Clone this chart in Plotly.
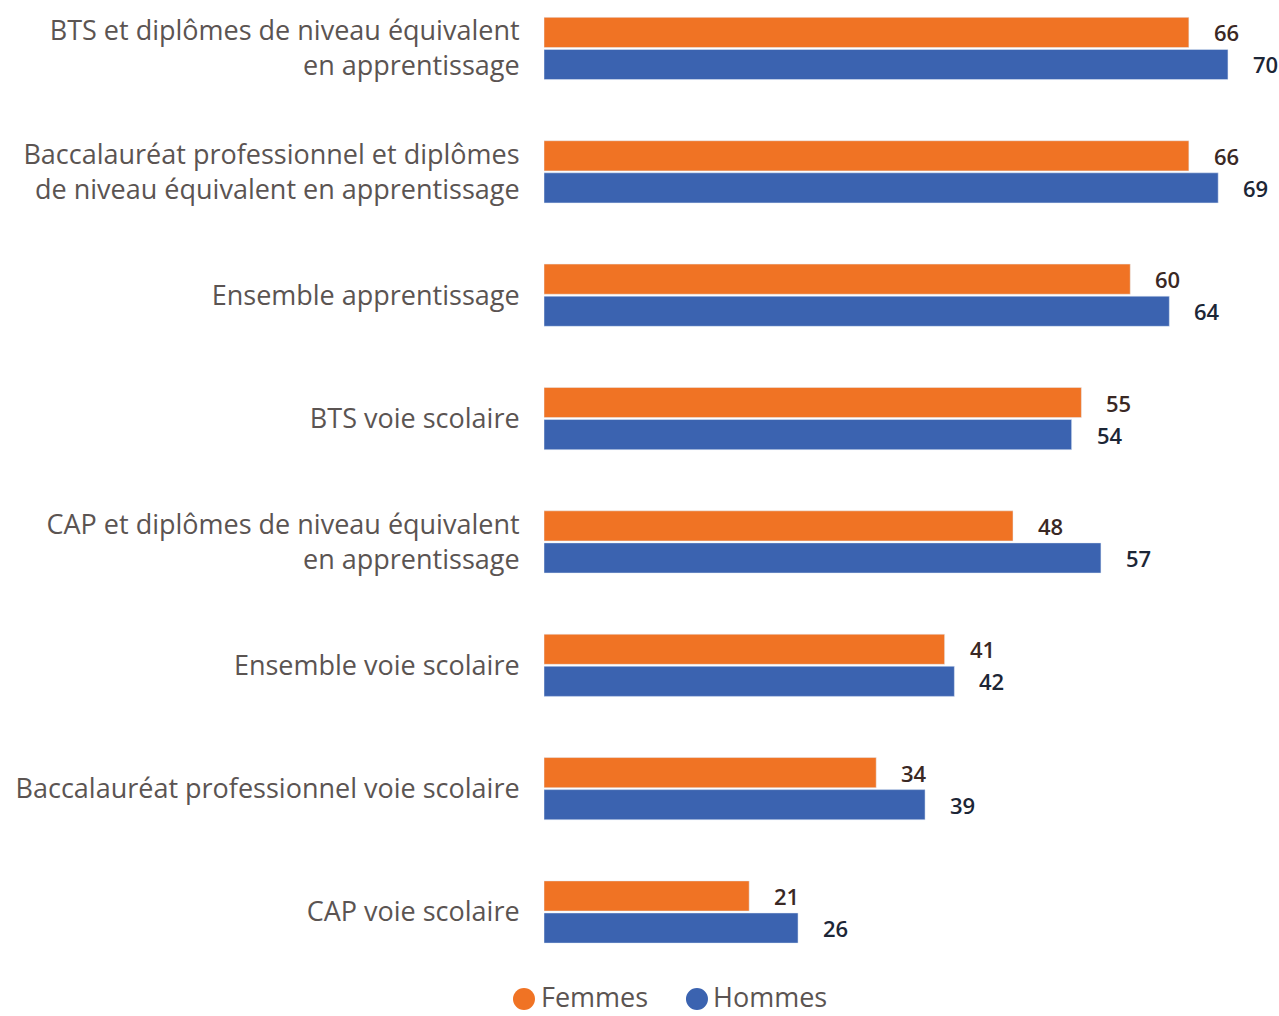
import plotly.graph_objects as go

categories = [
    "BTS et diplômes de niveau équivalent<br>en apprentissage",
    "Baccalauréat professionnel et diplômes<br>de niveau équivalent en apprentissage",
    "Ensemble apprentissage",
    "BTS voie scolaire",
    "CAP et diplômes de niveau équivalent<br>en apprentissage",
    "Ensemble voie scolaire",
    "Baccalauréat professionnel voie scolaire",
    "CAP voie scolaire",
]
femmes = [66, 66, 60, 55, 48, 41, 34, 21]
hommes = [70, 69, 64, 54, 57, 42, 39, 26]
series_names = ["Femmes", "Hommes"]

ORANGE = "#F07324"
BLUE = "#3B63B0"
LABEL_COLOR = "#5B5452"
# value labels are tinted slightly towards their bar colour
VALUE_COLORS = ["#3A2824", "#1C2636"]

fig = go.Figure()
for name, vals, col in zip(series_names, [femmes, hommes], [ORANGE, BLUE]):
    fig.add_trace(go.Bar(y=categories, x=vals, orientation="h", name=name,
                         marker_color=col, showlegend=False))

annotations = []
for cat, f, h in zip(categories, femmes, hommes):
    for val, shift, vcol in [(f, 16, VALUE_COLORS[0]), (h, -16, VALUE_COLORS[1])]:
        annotations.append(dict(
            x=val, y=cat, text=str(val), showarrow=False,
            xanchor="left", yanchor="middle", xshift=23, yshift=shift,
            font=dict(family="Open Sans", size=22, color=vcol, weight=600),
        ))

# hand-made legend (a native legend would push the bottom margin)
shapes = []
legend_pos = [(-0.0276, -0.0066), (0.211, 0.2304)]
for name, col, (cx, tx) in zip(series_names, [ORANGE, BLUE], legend_pos):
    shapes.append(dict(
        type="circle", xref="paper", yref="paper",
        xsizemode="pixel", ysizemode="pixel",
        xanchor=cx, yanchor=-0.0406,
        x0=-11, x1=11, y0=-11, y1=11,
        fillcolor=col, line_width=0,
    ))
    annotations.append(dict(
        x=tx, y=-0.0375, xref="paper", yref="paper", text=name,
        showarrow=False, xanchor="left", yanchor="middle",
        font=dict(family="Open Sans", size=27, color=LABEL_COLOR),
    ))

fig.update_layout(
    width=1279,
    height=1016,
    margin=dict(l=544, r=10, t=0, b=56),
    paper_bgcolor="white",
    plot_bgcolor="white",
    barmode="group",
    bargap=0.48,
    bargroupgap=0.06,
    showlegend=False,
    annotations=annotations,
    shapes=shapes,
    xaxis=dict(range=[0, 74.2], visible=False),
    yaxis=dict(
        categoryorder="array",
        categoryarray=categories,
        range=[7.389, -0.393],
        showgrid=False,
        zeroline=False,
        showline=False,
        ticks="outside",
        ticklen=18,
        tickcolor="rgba(0,0,0,0)",
        tickfont=dict(family="Open Sans", size=27, color=LABEL_COLOR),
    ),
)

# drop the default page margin so the figure fills the window exactly
fig.write_html(
    "out.html",
    config={"displayModeBar": False},
    post_script="document.body.style.margin = '0';",
)
